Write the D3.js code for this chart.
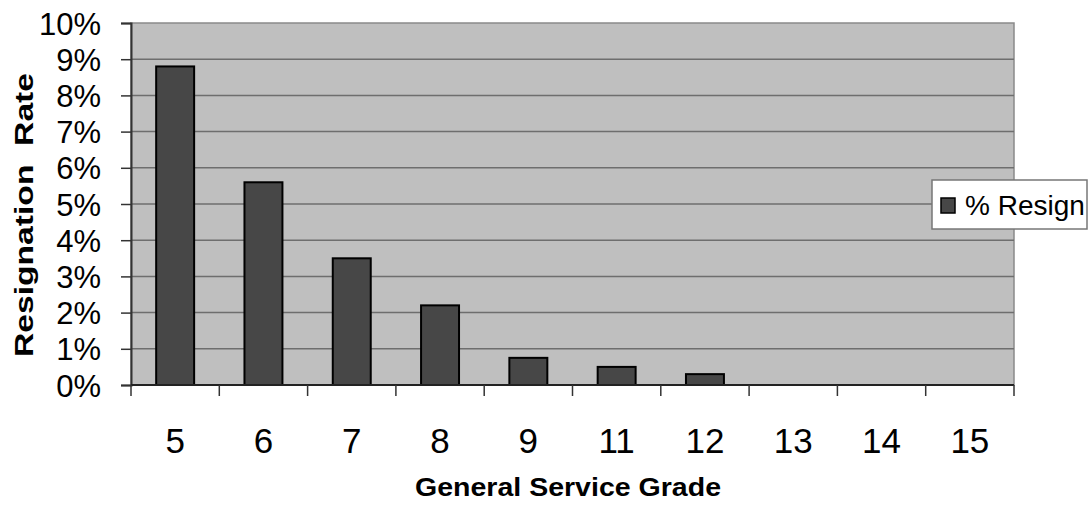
<!DOCTYPE html>
<html>
<head>
<meta charset="utf-8">
<script src="https://cdn.jsdelivr.net/npm/d3@7"></script>
<style>
  html, body { margin: 0; padding: 0; background: #fff; }
  svg { display: block; }
  text { font-family: "Liberation Sans", Arial, sans-serif; fill: #000; }
</style>
</head>
<body>
<svg id="chart" width="1088" height="506"></svg>
<script>
const grades = ["5", "6", "7", "8", "9", "11", "12", "13", "14", "15"];
const resignRate = [8.8, 5.6, 3.5, 2.2, 0.75, 0.5, 0.3, 0, 0, 0];
const yTicks = [0, 1, 2, 3, 4, 5, 6, 7, 8, 9, 10];
const seriesName = "% Resign";
const xTitle = "General Service Grade";
const yTitle = "Resignation\u00A0\u00A0Rate";

const svg = d3.select("#chart");
const margin = { left: 131, right: 74, top: 23, bottom: 121 };
const W = 1088, H = 506;
const plotW = W - margin.left - margin.right;
const plotH = H - margin.top - margin.bottom;

const x = d3.scaleBand().domain(grades).range([0, plotW]).paddingInner(0.57).paddingOuter(0.285);
const xTicksScale = d3.scaleBand().domain(grades).range([0, plotW]);
const y = d3.scaleLinear().domain([0, 10]).range([plotH, 0]);

const g = svg.append("g").attr("transform", `translate(${margin.left},${margin.top})`);

// plot background
g.append("rect").attr("x", 0).attr("y", 0).attr("width", plotW).attr("height", plotH)
  .attr("fill", "#bfbfbf").attr("stroke", "#8a8a8a").attr("stroke-width", 1.5);

// gridlines
g.append("g").selectAll("line").data(yTicks.filter(d => d > 0 && d < 10)).join("line")
  .attr("x1", 0).attr("x2", plotW)
  .attr("y1", d => y(d)).attr("y2", d => y(d))
  .attr("stroke", "#6e6e6e").attr("stroke-width", 1.5);

// bars
g.append("g").selectAll("rect").data(grades.map((c, i) => ({ c, v: resignRate[i] })).filter(d => d.v > 0))
  .join("rect")
  .attr("x", d => x(d.c))
  .attr("y", d => y(d.v))
  .attr("width", x.bandwidth())
  .attr("height", d => y(0) - y(d.v))
  .attr("fill", "#474747")
  .attr("stroke", "#000").attr("stroke-width", 2);

// y axis
const yAxis = d3.axisLeft(y).tickValues(yTicks).tickFormat(d => d + "%").tickSize(10).tickPadding(20);
const yG = g.append("g").call(yAxis);
yG.select(".domain").attr("stroke", "#333").attr("stroke-width", 2);
yG.selectAll(".tick line").attr("stroke", "#333").attr("stroke-width", 1.5);
yG.selectAll(".tick text").attr("font-size", 31).attr("dy", "0.36em")
  .attr("font-family", "Liberation Sans, Arial, sans-serif");

// x axis ticks at band boundaries
const boundaries = grades.map(c => xTicksScale(c)).concat([plotW]);
const xG = g.append("g").attr("transform", `translate(0,${plotH})`);
xG.append("line").attr("x1", 0).attr("x2", plotW).attr("y1", 0).attr("y2", 0)
  .attr("stroke", "#222").attr("stroke-width", 2);
xG.selectAll("line.tk").data(boundaries).join("line").attr("class", "tk")
  .attr("x1", d => d).attr("x2", d => d).attr("y1", 0).attr("y2", 11)
  .attr("stroke", "#333").attr("stroke-width", 1.5);
xG.selectAll("text").data(grades).join("text")
  .attr("x", c => xTicksScale(c) + xTicksScale.bandwidth() / 2)
  .attr("y", 68)
  .attr("text-anchor", "middle")
  .attr("font-size", 35)
  .text(c => c);

// axis titles
svg.append("text")
  .attr("x", 568).attr("y", 496)
  .attr("text-anchor", "middle")
  .attr("font-size", 26).attr("font-weight", "bold")
  .attr("textLength", 306).attr("lengthAdjust", "spacingAndGlyphs")
  .text(xTitle);

svg.append("text")
  .attr("transform", "translate(33,215) rotate(-90)")
  .attr("text-anchor", "middle")
  .attr("font-size", 25).attr("font-weight", "bold")
  .attr("textLength", 284).attr("lengthAdjust", "spacingAndGlyphs")
  .style("white-space", "pre")
  .text(yTitle);

// legend
const lg = svg.append("g").attr("transform", "translate(932,180)");
lg.append("rect").attr("x", 0).attr("y", 0).attr("width", 155).attr("height", 49)
  .attr("fill", "#fff").attr("stroke", "#777").attr("stroke-width", 1.5);
lg.append("rect").attr("x", 9).attr("y", 18).attr("width", 14).attr("height", 15)
  .attr("fill", "#474747").attr("stroke", "#000").attr("stroke-width", 1.5);
lg.append("text").attr("x", 33).attr("y", 35).attr("font-size", 28).text(seriesName);
</script>
</body>
</html>
